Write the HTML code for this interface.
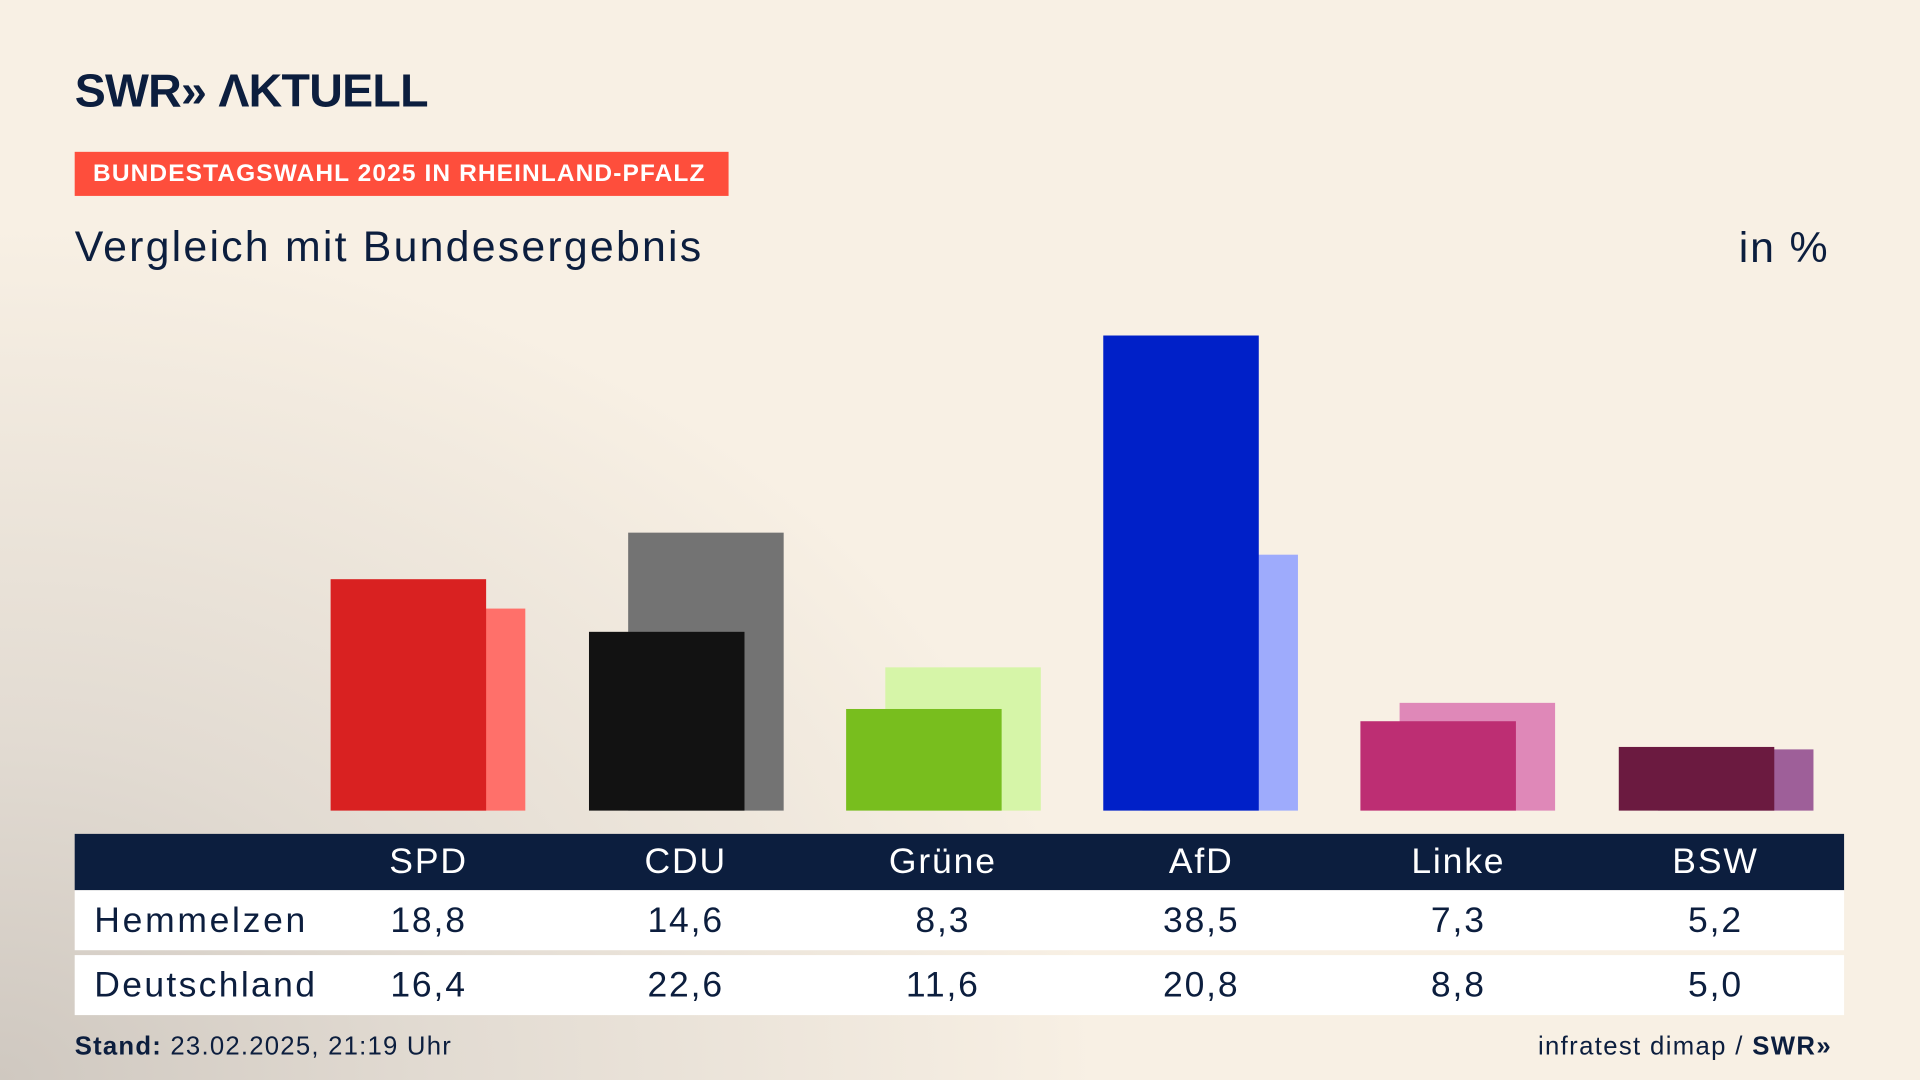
<!DOCTYPE html>
<html><head><meta charset="utf-8"><style>
html,body{margin:0;padding:0;width:1920px;height:1080px;overflow:hidden}
#w{position:absolute;left:0;top:0;width:1568px;height:882px;transform:scale(1.22449);transform-origin:0 0;
background:radial-gradient(ellipse 900px 700px at 0px 882px,#cfc8c0 0%,#e2dbd2 40%,rgba(248,240,228,0) 100%),#f8f0e4;
font-family:"Liberation Sans",sans-serif;color:#0c1e3e}
.a{position:absolute;white-space:nowrap}
.b{position:absolute}
.c{position:absolute;width:160px;text-align:center;margin-left:-80px;font-size:29px;letter-spacing:1.5px}
</style></head><body><div id="w">
<div class="a" style="left:61px;top:54px;font-size:38px;font-weight:bold;letter-spacing:-0.6px">SWR» ΛKTUELL</div>
<div class="a" style="left:61px;top:124px;width:534px;height:36px;background:#fe4e3c;color:#fff;font-weight:bold;font-size:20px;line-height:37px;text-indent:15px;letter-spacing:0.9px">BUNDESTAGSWAHL 2025 IN RHEINLAND-PFALZ</div>
<div class="a" style="left:61px;top:182px;font-size:35px;letter-spacing:1.8px">Vergleich mit Bundesergebnis</div>
<div class="a" style="left:1420px;top:183px;font-size:35px;letter-spacing:1.5px">in %</div>

<div class="b" style="left:302px;top:497px;width:127px;height:165px;background:#ff706a"></div>
<div class="b" style="left:270px;top:473px;width:127px;height:189px;background:#d92121"></div>
<div class="b" style="left:513px;top:435px;width:127px;height:227px;background:#737373"></div>
<div class="b" style="left:481px;top:516px;width:127px;height:146px;background:#121212"></div>
<div class="b" style="left:723px;top:545px;width:127px;height:117px;background:#d6f5a8"></div>
<div class="b" style="left:691px;top:579px;width:127px;height:83px;background:#78be1e"></div>
<div class="b" style="left:933px;top:453px;width:127px;height:209px;background:#9eabfc"></div>
<div class="b" style="left:901px;top:274px;width:127px;height:388px;background:#0020c8"></div>
<div class="b" style="left:1143px;top:574px;width:127px;height:88px;background:#df88b8"></div>
<div class="b" style="left:1111px;top:589px;width:127px;height:73px;background:#bd2e73"></div>
<div class="b" style="left:1354px;top:612px;width:127px;height:50px;background:#9e5f99"></div>
<div class="b" style="left:1322px;top:610px;width:127px;height:52px;background:#6b1a40"></div>

<div class="a" style="left:61px;top:681px;width:1445px;height:46px;background:#0c1e3e"></div>
<div class="a" style="left:61px;top:727px;width:1445px;height:49px;background:#fff"></div>
<div class="a" style="left:61px;top:780px;width:1445px;height:49px;background:#fff"></div>
<div style="color:#fff">
<div class="c" style="left:350px;top:688px">SPD</div><div class="c" style="left:560px;top:688px">CDU</div><div class="c" style="left:770px;top:688px">Grüne</div><div class="c" style="left:981px;top:688px">AfD</div><div class="c" style="left:1191px;top:688px">Linke</div><div class="c" style="left:1401px;top:688px">BSW</div>
</div>
<div class="a" style="left:77px;top:736px;font-size:29px;letter-spacing:2.2px">Hemmelzen</div>
<div class="c" style="left:350px;top:736px">18,8</div><div class="c" style="left:560px;top:736px">14,6</div><div class="c" style="left:770px;top:736px">8,3</div><div class="c" style="left:981px;top:736px">38,5</div><div class="c" style="left:1191px;top:736px">7,3</div><div class="c" style="left:1401px;top:736px">5,2</div>
<div class="a" style="left:77px;top:789px;font-size:29px;letter-spacing:1.9px">Deutschland</div>
<div class="c" style="left:350px;top:789px">16,4</div><div class="c" style="left:560px;top:789px">22,6</div><div class="c" style="left:770px;top:789px">11,6</div><div class="c" style="left:981px;top:789px">20,8</div><div class="c" style="left:1191px;top:789px">8,8</div><div class="c" style="left:1401px;top:789px">5,0</div>

<div class="a" style="left:61px;top:843px;font-size:21px;letter-spacing:1px"><b>Stand:</b> 23.02.2025, 21:19 Uhr</div>
<div class="a" style="left:1256px;top:843px;font-size:21px;letter-spacing:1.1px">infratest dimap / <b>SWR»</b></div>
</div></body></html>
